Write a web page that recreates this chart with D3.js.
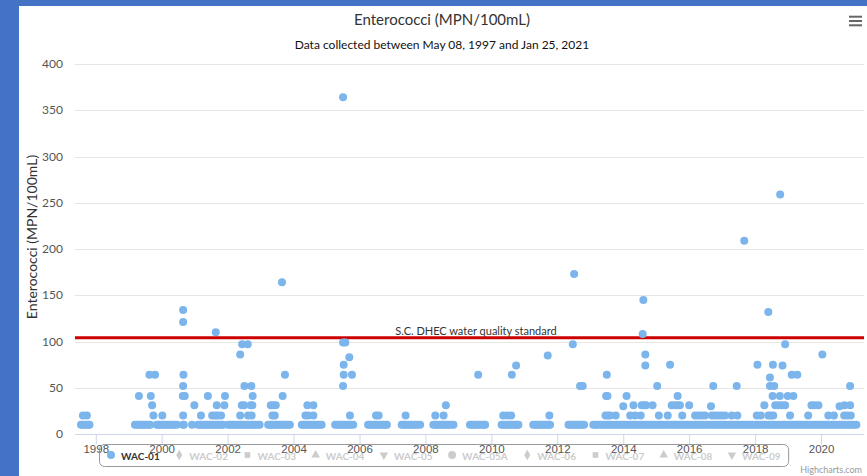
<!DOCTYPE html>
<html>
<head>
<meta charset="utf-8">
<script src="https://cdn.jsdelivr.net/npm/d3@7"></script>
<style>
  html, body { margin: 0; padding: 0; background: #4472c4; }
  svg { display: block; font-family: Lato, "Open Sans", sans-serif; }
</style>
</head>
<body>
<svg id="chart" width="867" height="476"></svg>
<script>
const chartTitle = 'Enterococci (MPN/100mL)';
const chartSubtitle = 'Data collected between May 08, 1997 and Jan 25, 2021';
const yAxisTitle = 'Enterococci (MPN/100mL)';
const yTicks = [0, 50, 100, 150, 200, 250, 300, 350, 400];
const stations = ['WAC-01', 'WAC-02', 'WAC-03', 'WAC-04', 'WAC-05', 'WAC-05A',
                  'WAC-06', 'WAC-07', 'WAC-08', 'WAC-09'];
const standardValue = 104;
const standardLabel = 'S.C. DHEC water quality standard';

// WAC-01 samples at the reporting floor (10 MPN/100mL), as decimal years
const floorValue = 10;
const floorDates = [
  1997.55, 1997.60, 1997.66, 1997.72, 1997.78, 1997.81,
  1999.19, 1999.25, 1999.30, 1999.37, 1999.43, 1999.48, 1999.55, 1999.61, 1999.65,
  1999.85, 1999.91, 1999.96, 2000.03, 2000.09, 2000.14, 2000.21, 2000.27, 2000.33, 2000.38, 2000.46,
  2000.65, 2000.67, 2000.92,
  2001.10, 2001.16, 2001.21, 2001.28, 2001.34, 2001.39, 2001.46, 2001.52, 2001.57, 2001.64, 2001.70, 2001.75, 2001.82, 2001.86,
  2002.01, 2002.07, 2002.12, 2002.19, 2002.25, 2002.30, 2002.37, 2002.43, 2002.48, 2002.55, 2002.61, 2002.66, 2002.73, 2002.79, 2002.84, 2002.91, 2002.97,
  2003.23, 2003.29, 2003.34, 2003.41, 2003.47, 2003.52, 2003.59, 2003.65, 2003.70, 2003.77, 2003.83, 2003.89,
  2004.25, 2004.31, 2004.36, 2004.43, 2004.49, 2004.54, 2004.61, 2004.67, 2004.72, 2004.79, 2004.85,
  2005.26, 2005.32, 2005.37, 2005.44, 2005.50, 2005.55, 2005.62, 2005.68, 2005.73, 2005.81,
  2006.26, 2006.32, 2006.37, 2006.44, 2006.50, 2006.55, 2006.62, 2006.68, 2006.73, 2006.80, 2006.83,
  2007.28, 2007.34, 2007.39, 2007.46, 2007.52, 2007.57, 2007.64, 2007.70, 2007.75, 2007.84,
  2008.24, 2008.30, 2008.35, 2008.42, 2008.48, 2008.53, 2008.60, 2008.66, 2008.71, 2008.78, 2008.85,
  2009.35, 2009.41, 2009.46, 2009.53, 2009.59, 2009.64, 2009.71, 2009.77, 2009.81,
  2010.31, 2010.37, 2010.42, 2010.49, 2010.55, 2010.60, 2010.67, 2010.73, 2010.78, 2010.82,
  2011.27, 2011.33, 2011.38, 2011.45, 2011.51, 2011.56, 2011.63, 2011.69, 2011.74, 2011.78,
  2012.34, 2012.40, 2012.45, 2012.52, 2012.58, 2012.63, 2012.70, 2012.76, 2012.81,
  2013.09, 2013.16, 2013.22, 2013.30, 2013.37, 2013.43, 2013.51, 2013.58, 2013.64, 2013.72, 2013.79, 2013.85, 2013.93,
  2014.00, 2014.07, 2014.13, 2014.21, 2014.28, 2014.34, 2014.42, 2014.49, 2014.55, 2014.63, 2014.70, 2014.76, 2014.84, 2014.91, 2014.97,
  2015.05, 2015.12, 2015.18, 2015.26, 2015.33, 2015.39, 2015.47, 2015.54, 2015.60, 2015.68, 2015.75, 2015.81, 2015.89, 2015.96,
  2016.02, 2016.10, 2016.17, 2016.23, 2016.31, 2016.38, 2016.44, 2016.52, 2016.59, 2016.65, 2016.73, 2016.80, 2016.86, 2016.94,
  2017.01, 2017.07, 2017.15, 2017.22, 2017.28, 2017.36, 2017.43, 2017.49, 2017.57, 2017.64, 2017.70, 2017.78, 2017.85, 2017.91, 2017.99,
  2018.06, 2018.12, 2018.20, 2018.27, 2018.33, 2018.41, 2018.48, 2018.54, 2018.62, 2018.69, 2018.75, 2018.83, 2018.90, 2018.96,
  2019.04, 2019.11, 2019.17, 2019.25, 2019.32, 2019.38, 2019.46, 2019.53, 2019.59, 2019.67, 2019.74, 2019.80, 2019.88, 2019.95,
  2020.01, 2020.09, 2020.16, 2020.22, 2020.30, 2020.37, 2020.43, 2020.51, 2020.58, 2020.64, 2020.72, 2020.79, 2020.85, 2020.93,
  2021.00, 2021.07
];

// WAC-01 samples above the floor: [decimal year, MPN/100mL]
const readings = [
  [1997.61, 20], [1997.73, 20],
  [1999.31, 41], [1999.63, 64], [1999.67, 41], [1999.71, 31], [1999.75, 20], [1999.80, 64],
  [2000.02, 20],
  [2000.65, 134], [2000.65, 121], [2000.66, 64], [2000.65, 52], [2000.64, 41], [2000.70, 41], [2000.65, 20],
  [2000.99, 31],
  [2001.19, 20], [2001.40, 41], [2001.64, 110], [2001.67, 31], [2001.53, 20], [2001.62, 20], [2001.70, 20],
  [2001.80, 20], [2001.90, 31], [2001.92, 41],
  [2002.38, 86], [2002.44, 97], [2002.61, 97], [2002.51, 52], [2002.72, 52], [2002.76, 41], [2002.43, 31],
  [2002.50, 31], [2002.70, 31], [2002.75, 31], [2002.38, 20], [2002.62, 20], [2002.73, 20],
  [2003.31, 31], [2003.38, 31], [2003.46, 31], [2003.36, 20], [2003.43, 20], [2003.65, 164], [2003.67, 41], [2003.74, 64],
  [2004.42, 31], [2004.60, 31], [2004.36, 20], [2004.45, 20], [2004.60, 20],
  [2005.50, 364], [2005.50, 99], [2005.57, 99], [2005.52, 75], [2005.52, 64], [2005.50, 52], [2005.69, 83],
  [2005.77, 64], [2005.71, 20],
  [2006.50, 20], [2006.58, 20],
  [2007.40, 20],
  [2008.30, 20], [2008.55, 20], [2008.62, 31],
  [2009.60, 64],
  [2010.36, 20], [2010.48, 20], [2010.60, 20], [2010.62, 64], [2010.75, 74],
  [2011.71, 85], [2011.76, 20],
  [2012.47, 97], [2012.51, 173], [2012.69, 52], [2012.77, 52],
  [2013.48, 41], [2013.52, 41], [2013.50, 64], [2013.46, 20], [2013.53, 20], [2013.60, 20], [2013.77, 20],
  [2014.00, 30], [2014.10, 41], [2014.21, 20], [2014.31, 31], [2014.36, 20], [2014.53, 20], [2014.56, 31],
  [2014.63, 31], [2014.69, 31], [2014.59, 108], [2014.61, 145], [2014.67, 86], [2014.67, 74], [2014.89, 31],
  [2015.03, 52], [2015.08, 20], [2015.35, 20], [2015.42, 75], [2015.47, 31], [2015.57, 31], [2015.65, 31],
  [2015.72, 31], [2015.65, 41], [2015.79, 20], [2016.00, 31],
  [2016.18, 20], [2016.28, 20], [2016.38, 20], [2016.48, 20], [2016.66, 30], [2016.73, 52], [2016.69, 20],
  [2016.79, 20], [2016.89, 20], [2016.99, 20], [2017.09, 20],
  [2017.29, 20], [2017.44, 52], [2017.46, 20], [2017.67, 209],
  [2018.05, 20], [2018.07, 75], [2018.17, 20], [2018.28, 31], [2018.40, 132], [2018.40, 20], [2018.48, 20],
  [2018.55, 20], [2018.45, 61], [2018.45, 52], [2018.58, 52], [2018.53, 41], [2018.54, 75], [2018.61, 31],
  [2018.71, 31], [2018.81, 31], [2018.91, 31], [2018.75, 41], [2018.76, 259], [2018.83, 74], [2018.91, 97],
  [2018.99, 41],
  [2019.06, 20], [2019.11, 64], [2019.16, 41], [2019.28, 64], [2019.61, 20], [2019.71, 31], [2019.81, 31],
  [2019.92, 31],
  [2020.04, 86], [2020.22, 20], [2020.39, 20], [2020.56, 30], [2020.70, 20], [2020.71, 31], [2020.80, 20],
  [2020.88, 52], [2020.88, 31], [2020.90, 20]
];

// decimal year -> Date
function toDate(y) {
  let yr = Math.floor(y);
  let start = new Date(yr, 0, 1), end = new Date(yr + 1, 0, 1);
  return new Date(+start + (y - yr) * (end - start));
}

const points = floorDates.map(d => ({date: toDate(d), value: floorValue}))
  .concat(readings.map(d => ({date: toDate(d[0]), value: d[1]})));

const W = 867, H = 476;
const plot = {left: 75, right: 864, top: 64, bottom: 434};
const crisp = v => Math.round(v) + 0.5;

const svg = d3.select('#chart');

// white chart panel over the blue page
svg.append('rect')
   .attr('x', 19).attr('y', 6)
   .attr('width', W - 19).attr('height', H - 6)
   .attr('fill', '#fff');

const x = d3.scaleTime()
            .domain([new Date(1997, 4, 16), new Date(2021, 3, 21)])
            .range([plot.left, plot.right]);
const y = d3.scaleLinear()
            .domain([0, 400])
            .range([plot.bottom, plot.top]);

// grid lines
svg.append('g')
   .selectAll('line')
   .data(yTicks.filter(t => t > 0))
   .join('line')
   .attr('x1', plot.left).attr('x2', plot.right)
   .attr('y1', d => crisp(y(d))).attr('y2', d => crisp(y(d)))
   .attr('stroke', '#e6e6e6');

// y tick labels
svg.append('g')
   .selectAll('text')
   .data(yTicks)
   .join('text')
   .attr('x', 63)
   .attr('y', d => y(d) + 4)
   .attr('text-anchor', 'end')
   .attr('font-size', 12)
   .attr('fill', '#555')
   .text(d => d);

svg.append('text')
   .attr('transform', `translate(37,237) rotate(-90)`)
   .attr('text-anchor', 'middle')
   .attr('font-size', 14)
   .attr('fill', '#333')
   .text(yAxisTitle);

// x axis
const xAxis = d3.axisBottom(x)
                .ticks(d3.timeYear.every(2))
                .tickFormat(d3.timeFormat('%Y'))
                .tickSize(10)
                .tickPadding(0);

const gx = svg.append('g')
              .attr('transform', `translate(0,${crisp(plot.bottom)})`)
              .call(xAxis);
gx.select('.domain').attr('stroke', '#ccd6eb').attr('d', `M${plot.left},0H${plot.right}`);
gx.selectAll('.tick line').attr('stroke', '#ccd6eb');
gx.selectAll('.tick text')
  .attr('font-family', null)
  .attr('font-size', 11.5)
  .attr('fill', '#555');

// standard line
const yStd = y(standardValue);
svg.append('line')
   .attr('x1', plot.left).attr('x2', plot.right)
   .attr('y1', yStd).attr('y2', yStd)
   .attr('stroke', '#cc0000')
   .attr('stroke-width', 3);
svg.append('text')
   .attr('x', 476)
   .attr('y', yStd - 3)
   .attr('text-anchor', 'middle')
   .attr('font-size', 11)
   .attr('fill', '#333')
   .text(standardLabel);

// WAC-01 points
svg.append('g')
   .selectAll('circle')
   .data(points)
   .join('circle')
   .attr('cx', d => x(d.date))
   .attr('cy', d => y(d.value))
   .attr('r', 4)
   .attr('fill', '#7cb5ec');

// titles
svg.append('text')
   .attr('x', 442).attr('y', 25)
   .attr('text-anchor', 'middle')
   .attr('font-size', 15)
   .attr('fill', '#333')
   .text(chartTitle);
svg.append('text')
   .attr('x', 442).attr('y', 49)
   .attr('text-anchor', 'middle')
   .attr('font-size', 12)
   .attr('fill', '#111')
   .text(chartSubtitle);

// menu button
svg.append('g')
   .selectAll('line')
   .data([16.7, 21, 25.3])
   .join('line')
   .attr('x1', 849).attr('x2', 862)
   .attr('y1', d => d).attr('y2', d => d)
   .attr('stroke', '#666')
   .attr('stroke-width', 2);

// legend (only WAC-01 visible)
const symbolTypes = [d3.symbolCircle, d3.symbolDiamond, d3.symbolSquare, d3.symbolTriangle,
                     d3.symbolTriangle, d3.symbolCircle, d3.symbolDiamond, d3.symbolSquare,
                     d3.symbolTriangle, d3.symbolTriangle];
const legend = svg.append('g');
const itemGap = 19.5;
let lx = 111;
const legendY = 455;
stations.forEach((s, i) => {
  let active = i === 0;
  let color = active ? '#7cb5ec' : '#cccccc';
  let rot = (i === 4 || i === 9) ? 180 : 0;
  legend.append('path')
        .attr('d', d3.symbol().type(symbolTypes[i]).size(i % 5 === 0 ? 50 : 32)())
        .attr('transform', `translate(${lx},${legendY}) rotate(${rot})`)
        .attr('fill', color);
  let t = legend.append('text')
                .attr('x', lx + 10)
                .attr('y', legendY + 4.5)
                .attr('font-size', 10)
                .attr('font-weight', 'bold')
                .attr('fill', active ? '#333' : '#cccccc')
                .text(s);
  lx = lx + 10 + t.node().getComputedTextLength() + itemGap;
});
const legendRight = lx - itemGap + 8;
legend.insert('rect', ':first-child')
      .attr('x', 99.5).attr('y', 444.5)
      .attr('width', legendRight - 99.5).attr('height', 22)
      .attr('rx', 5)
      .attr('fill', 'none')
      .attr('stroke', '#999');

svg.append('text')
   .attr('x', 862).attr('y', 473)
   .attr('text-anchor', 'end')
   .attr('font-size', 9)
   .attr('fill', '#999')
   .text('Highcharts.com');
</script>
</body>
</html>
